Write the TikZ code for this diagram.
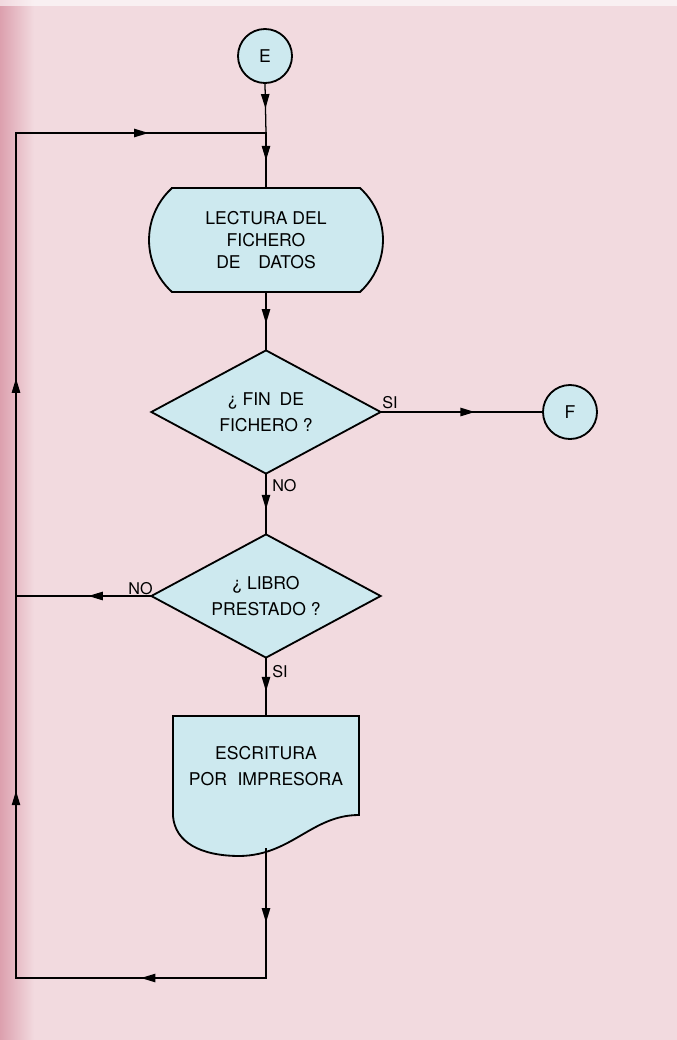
\documentclass[tikz,border=0pt]{standalone}
\usepackage{fontspec}
\setmainfont{TeX Gyre Heros}
\usetikzlibrary{shapes.geometric,arrows.meta,decorations.markings}

\definecolor{papel}{HTML}{F2DADF}
\definecolor{borde}{HTML}{DCA0AE}
\definecolor{celeste}{HTML}{CDE9EF}

\begin{document}
\begin{tikzpicture}[x=0.025cm, y=0.025cm,
    every node/.style={inner sep=0pt, font=\fontsize{12.5}{15.5}\selectfont},
    conector/.style={draw=black, line width=1.3pt, fill=celeste, circle, minimum size=1.35cm},
    decision/.style={draw=black, line width=1.3pt, fill=celeste, diamond, aspect=1.85, minimum width=5.75cm, minimum height=3.1cm, align=center},
    caja/.style={rectangle, align=center},
    etiq/.style={font=\fontsize{11.5}{13}\selectfont},
    flujo/.style={black, line width=0.9pt, line cap=rect},
    flecha/.style={postaction={decorate}, decoration={markings, mark=at position #1 with {\arrow{Triangle[length=3.6mm,width=2.1mm]}}}}]
    \useasboundingbox (0,0) rectangle (677,-1040);
    \fill [papel] (0,0) rectangle (677,-1040);
    \shade [left color=borde, right color=papel] (0,0) rectangle (34,-1040);
    \fill [white, opacity=0.6] (0,0) rectangle (677,-6);
    \draw [black, line width=1.3pt, fill=celeste] (172,-188) -- (360,-188) arc [start angle=47.7, end angle=-47.7, radius=70.3] -- (172,-292) arc [start angle=227.7, end angle=132.3, radius=70.3] -- cycle;
    \draw [black, line width=1.3pt, fill=celeste] (173,-716) -- (359,-716) -- (359,-815) .. controls (312,-815) and (292,-855) .. (240,-856) .. controls (200,-856) and (175,-842) .. (173,-816) -- cycle;
    \node [conector] (E) at (265,-56) {E};
    \node [conector] (F) at (570,-412) {F};
    \node [caja, minimum width=4.7cm, minimum height=2.6cm] (leer) at (266,-240) {LECTURA DEL\\FICHERO\\DE\hspace{1em}DATOS};
    \node [decision] (fin) at (266,-412) {¿ FIN\hspace{0.5em}DE\\[3pt]FICHERO ?};
    \node [decision] (libro) at (266,-596) {¿ LIBRO\\[3pt]PRESTADO ?};
    \node [caja, minimum width=4.65cm, minimum height=2.5cm] (imprime) at (266,-766) {ESCRITURA\\[3pt]POR\hspace{0.6em}IMPRESORA};
    \coordinate (salida) at (266,-849);
    \coordinate (union) at (266,-133);
    \coordinate (esquina) at (266,-978);
    \coordinate (abajo) at (16,-978);
    \coordinate (medio) at (16,-596);
    \coordinate (arriba) at (16,-133);
    \node [etiq, anchor=west] (si1) at (382,-403) {SI};
    \node [etiq, anchor=west] (no1) at (272,-486) {NO};
    \node [etiq, anchor=east] (no2) at (153,-589) {NO};
    \node [etiq, anchor=west] (si2) at (272,-672) {SI};
    \draw [flujo, flecha=0.5] (E.south) -- (union);
    \draw [flujo, flecha=0.5] (union) -- (leer.north);
    \draw [flujo, flecha=0.55] (leer.south) -- (fin.north);
    \draw [flujo, flecha=0.59] (fin.south) -- (libro.north);
    \draw [flujo, flecha=0.58] (fin.east) -- (F.west);
    \draw [flujo, flecha=0.46] (libro.west) -- (medio);
    \draw [flujo, flecha=0.57] (libro.south) -- (imprime.north);
    \draw [flujo, flecha=0.57] (salida) -- (esquina);
    \draw [flujo, flecha=0.5] (esquina) -- (abajo);
    \draw [flujo, flecha=0.49] (abajo) -- (medio);
    \draw [flujo, flecha=0.47] (medio) -- (arriba);
    \draw [flujo, flecha=0.53] (arriba) -- (union);
\end{tikzpicture}
\end{document}
